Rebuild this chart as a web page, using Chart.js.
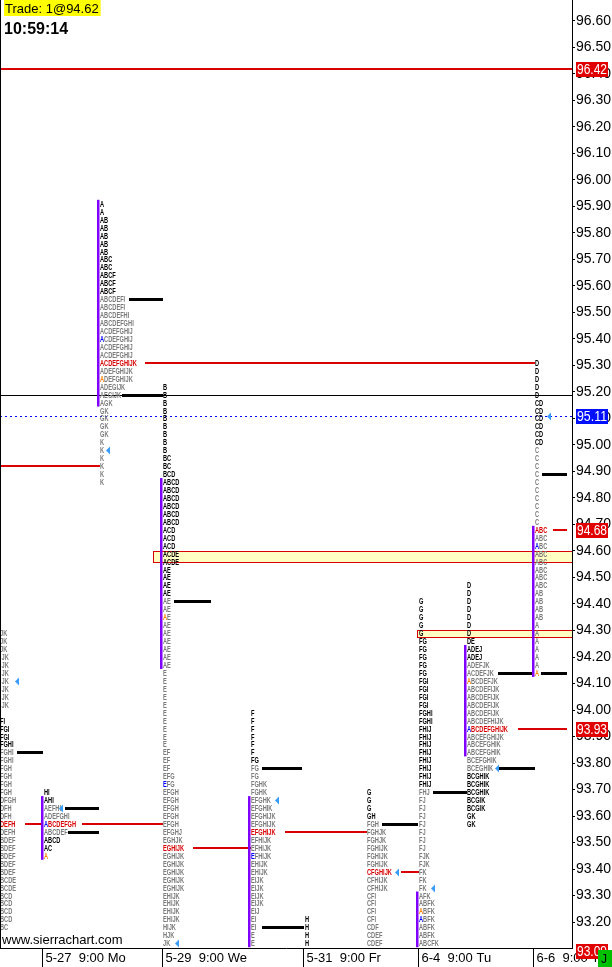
<!DOCTYPE html>
<html><head><meta charset="utf-8">
<script src="https://cdn.jsdelivr.net/npm/chart.js@4.4.0/dist/chart.umd.min.js"></script>
<style>html,body{margin:0;padding:0;background:#fff;overflow:hidden}#wrap{position:relative;width:612px;height:967px}</style>
</head><body><div id="wrap"><canvas id="c" width="612" height="967"></canvas></div>
<script>
// ---------- DATA ----------
const yTicks = [93.2,93.3,93.4,93.5,93.6,93.7,93.8,93.9,94.0,94.1,94.2,94.3,94.4,94.5,94.6,94.7,94.8,94.9,95.0,95.1,95.2,95.3,95.4,95.5,95.6,95.7,95.8,95.9,96.0,96.1,96.2,96.3,96.4,96.5,96.6];
const dateTicks = [42,162,303,418,533];
const dateLabels = ['5-27  9:00 Mo','5-29  9:00 We','5-31  9:00 Fr','6-4  9:00 Tu','6-6  9:00 Th'];
const tickSize = 0.03;
const profileSlots = [0,44,100,163,251,305,367,419,467,535];
const profileTops = [94.29,93.69,95.91,95.22,93.99,93.21,93.69,94.41,94.47,95.31];
const pocRow = [25,5,21,59,16,null,11,null,19,22];

const p1 = ['JK','JK','JK',' JK',' JK',' JK',' JK',' JK',' JK',' JK','','FI','FGI','FGI','FGHI','FGHI','FGHI','FGH','FGH','FGH','FGH','DFGH','DFH','DFH','DEFH','DEFH','BDEF','BDEF','BDEF','BDEF','BDEF','BCDE','BCDE','BCD','BCD','BCD','BCD','BC'];
const p2 = ['HI','AHI','AEFHI','ADEFGHI','ABCDEFGH','ABCDEF','ABCD','AC','A'];
const p3 = ['A','A','AB','AB','AB','AB','AB','ABC','ABC','ABCF','ABCF','ABCF','ABCDEFI','ABCDEFI','ABCDEFHI','ABCDEFGHI','ACDEFGHIJ','ACDEFGHIJ','ACDEFGHIJ','ACDEFGHIJ','ACDEFGHIJK','ADEFGHIJK','ADEFGHIJK','ADEGIJK','AEGIJK','AGK','GK','GK','GK','GK','K','K','K','K','K','K'];
const p4 = ['B','B','B','B','B','B','B','B','B','BC','BC','BCD','ABCD','ABCD','ABCD','ABCD','ABCD','ABCD','ACD','ACD','ACD','ACDE','ACDE','AE','AE','AE','AE','AE','AE','AE','AE','AE','AE','AE','AE','AE','E','E','E','E','E','E','E','E','E','E','EF','EF','EF','EFG','EFG','EFGH','EFGH','EFGH','EFGH','EFGH','EFGHJ','EGHJK','EGHIJK','EGHIJK','EGHIJK','EGHIJK','EGHIJK','EGHIJK','EHIJK','EHIJK','EHIJK','EHIJK','HIJK','HJK','JK'];
const p5 = ['F','F','F','F','F','F','FG','FG','FG','FGHK','FGHK','EFGHK','EFGHIK','EFGHIJK','EFGHIJK','EFGHIJK','EFHIJK','EFHIJK','EFHIJK','EHIJK','EHIJK','EIJK','EIJK','EIJK','EIJK','EIJ','EI','EI','E','E'];
const p6 = ['H','H','H','H'];
const p7 = ['G','G','G','GH','FGH','FGHJK','FGHJK','FGHIJK','FGHIJK','FGHIJK','CFGHIJK','CFHIJK','CFHIJK','CFI','CFI','CFI','CFI','CDF','CDEF','CDEF'];
const p8 = ['G','G','G','G','G','FG','FG','FG','FG','FG','FGI','FGI','FGI','FGI','FGHI','FGHI','FHIJ','FHIJ','FHIJ','FHIJ','FHIJ','FHIJ','FHIJ','FHIJ','FHJ','FJ','FJ','FJ','FJ','FJ','FJ','FJ','FJK','FJK','FK','FK','FK','AFK','ABFK','ABFK','ABFK','ABFK','ABFK','ABCFK'];
const p9 = ['D','D','D','D','D','D','D','DE','ADEJ','ADEJ','ADEFJK','ACDEFJK','ABCDEFJK','ABCDEFIJK','ABCDEFIJK','ABCDEFIJK','ABCDEFIJK','ABCDEFHIJK','ABCDEFGHIJK','ABCEFGHIJK','ABCEFGHIK','ABCEFGHIK','BCEFGHIK','BCEGHIK','BCGHIK','BCGHIK','BCGHIK','BCGIK','BCGIK','GK','GK'];
const p10 = ['D','D','D','D','D','CD','CD','CD','CD','CD','CD','C','C','C','C','C','C','C','C','C','C','ABC','ABC','ABC','ABC','ABC','ABC','ABC','ABC','AB','AB','AB','AB','A','A','A','A','A','A','A'];
const profiles = [p1,p2,p3,p4,p5,p6,p7,p8,p9,p10];

// POC lines (price, from slot, to slot)
const pocLines = [[94.92,0,100],[95.31,145,535],[93.57,25,41],[93.57,82,163],[93.48,193,251],[93.54,285,367],[93.39,401,419],[93.93,518,567],[94.68,553,567]];
const keyLevel = [96.42,0,572];
const midLines = [[93.84,17,43],[93.63,65,99],[93.54,68,99],[95.55,129,163],[95.19,122,163],[94.41,174,211],[93.78,262,302],[93.18,262,304],[93.57,382,418],[93.69,433,467],[94.14,498,533],[93.78,498,535],[94.89,542,567],[94.14,541,567]];
const thinLine = [95.19,0,572];
const lastPrice = 95.11;
const markers = [[94.98,106],[94.11,15],[93.63,59],[93.12,175],[93.66,275],[93.39,395],[93.33,431],[93.78,495],[95.11,547]];
const bands = [[94.56,94.60,153],[94.275,94.30,417]];
const priceBoxes = [[96.42,'red'],[95.11,'blue'],[94.68,'red'],[93.93,'red'],[93.09,'red']];

// ---------- STYLE ----------
const darkRows = [[[12,15]],[[1,2],[7,8]],[[1,12]],[[1,27]],[[1,7]],[[1,4]],[[1,4]],[[1,24]],[[1,10],[25,31]],[[1,11]]];
const aRange = [null,[2,9],[1,26],[13,36],[12,30],null,null,[38,44],[9,22],[22,40]];
const openMark = [[1,9],[2,23],[3,30],[7,40],[8,13],[9,40]];
const blueMark = [[1,5],[2,18],[3,51],[4,19],[7,41],[8,19],[9,24]];
const SX = 0.63;
const RED = '#d80000', GRAY = '#7a7a7a';

function isDark(pi,r){return darkRows[pi].some(([a,b])=>r>=a&&r<=b);}

const tpoPlugin = {
  id:'tpo',
  beforeDatasetsDraw(chart){
    const {ctx, chartArea:a, scales:{x,y}} = chart;
    ctx.save();
    ctx.beginPath(); ctx.rect(a.left,a.top,a.right-a.left,a.bottom-a.top); ctx.clip();
    bands.forEach(([lo,hi,from])=>{
      const x1=Math.round(x.getPixelForValue(from)), x2=a.right;
      const y1=Math.round(y.getPixelForValue(hi)), y2=Math.round(y.getPixelForValue(lo));
      ctx.fillStyle='#ffffc4'; ctx.fillRect(x1,y1,x2-x1,y2-y1);
      ctx.strokeStyle=RED; ctx.lineWidth=1; ctx.strokeRect(x1+0.5,y1+0.5,x2-x1,y2-y1);
    });
    {
      const yy=Math.round(y.getPixelForValue(thinLine[0]))+0.5;
      ctx.strokeStyle='#000'; ctx.lineWidth=1; ctx.beginPath();
      ctx.moveTo(x.getPixelForValue(thinLine[1]),yy); ctx.lineTo(x.getPixelForValue(thinLine[2]),yy); ctx.stroke();
    }
    {
      const yy=Math.round(y.getPixelForValue(lastPrice))+0.5;
      ctx.strokeStyle='#0000ff'; ctx.lineWidth=1; ctx.setLineDash([2,3]); ctx.beginPath();
      ctx.moveTo(a.left,yy); ctx.lineTo(a.right,yy); ctx.stroke(); ctx.setLineDash([]);
    }
    const seg=(p,f,t,col,w)=>{const yy=Math.round(y.getPixelForValue(p));ctx.fillStyle=col;ctx.fillRect(x.getPixelForValue(f),yy-Math.floor(w/2),x.getPixelForValue(t)-x.getPixelForValue(f),w);};
    seg(keyLevel[0],keyLevel[1],keyLevel[2],RED,2);
    pocLines.forEach(l=>seg(l[0],l[1],l[2],RED,2));
    midLines.forEach(l=>seg(l[0],l[1],l[2],'#000',3));
    profiles.forEach((rows,pi)=>{
      const r=aRange[pi]; if(!r) return;
      const x0=x.getPixelForValue(profileSlots[pi]);
      const yt=y.getPixelForValue(profileTops[pi]-(r[0]-1)*tickSize)-4;
      const yb=y.getPixelForValue(profileTops[pi]-(r[1]-1)*tickSize)+4;
      ctx.fillStyle='#8000ff'; ctx.fillRect(x0-3,yt,2.5,yb-yt);
    });
    ctx.font='bold 9px Arial, "Liberation Sans", sans-serif';
    ctx.textBaseline='middle'; ctx.textAlign='left';
    profiles.forEach((rows,pi)=>{
      const x0=x.getPixelForValue(profileSlots[pi]);
      rows.forEach((s,ri)=>{
        if(!s) return;
        const r=ri+1;
        const yy=Math.round(y.getPixelForValue(profileTops[pi]-ri*tickSize))+0.5;
        let col=isDark(pi,r)?'#000':GRAY;
        if(pocRow[pi]===r) col=RED;
        let first=null;
        if(openMark.some(m=>m[0]===pi&&m[1]===r)) first='#ff8000';
        if(blueMark.some(m=>m[0]===pi&&m[1]===r)) first='#0000ff';
        ctx.save(); ctx.translate(x0,yy); ctx.scale(SX,1);
        const lead=s.length-s.trimStart().length;
        const t=s.trimStart();
        let off=lead*ctx.measureText(' ').width;
        if(first){
          ctx.fillStyle=first; ctx.fillText(t[0],off,0);
          off+=ctx.measureText(t[0]).width;
          ctx.fillStyle=col; ctx.fillText(t.slice(1),off,0);
        } else { ctx.fillStyle=col; ctx.fillText(t,off,0); }
        ctx.restore();
      });
    });
    ctx.fillStyle='#3a9cff';
    markers.forEach(([p,s])=>{
      const xx=x.getPixelForValue(s), yy=Math.round(y.getPixelForValue(p))+0.5;
      ctx.beginPath(); ctx.moveTo(xx,yy); ctx.lineTo(xx+4,yy-4); ctx.lineTo(xx+4,yy+4); ctx.closePath(); ctx.fill();
    });
    ctx.restore();
  },
  afterDraw(chart){
    const {ctx, chartArea:a, scales:{x,y}} = chart;
    ctx.save();
    ctx.fillStyle='#000'; ctx.fillRect(0,0,1,a.bottom);
    ctx.fillStyle='#fff'; ctx.fillRect(1,931,121,16);
    ctx.fillStyle='#000'; ctx.font='13px Arial, "Liberation Sans", sans-serif';
    ctx.textBaseline='alphabetic'; ctx.textAlign='left';
    ctx.fillText('www.sierrachart.com',2,944);
    dateTicks.forEach((v,i)=>{
      const px=Math.round(x.getPixelForValue(v))+0.5;
      ctx.strokeStyle='#000'; ctx.lineWidth=1; ctx.beginPath(); ctx.moveTo(px,a.bottom); ctx.lineTo(px,967); ctx.stroke();
      ctx.fillStyle='#000'; ctx.textBaseline='middle'; ctx.fillText(dateLabels[i],px+3,958);
    });
    ctx.font='13px Arial, "Liberation Sans", sans-serif';
    const tr='Trade: 1@94.62';
    ctx.fillStyle='#ffff00'; ctx.fillRect(4,0,ctx.measureText(tr).width+3,16);
    ctx.fillStyle='#000'; ctx.textBaseline='alphabetic'; ctx.fillText(tr,5,13);
    ctx.font='bold 16px Arial, "Liberation Sans", sans-serif';
    ctx.fillText('10:59:14',4,34);
    ctx.font='14px Arial, "Liberation Sans", sans-serif'; ctx.textBaseline='middle';
    priceBoxes.forEach(([p,c])=>{
      const yy=Math.round(y.getPixelForValue(p));
      ctx.fillStyle=c==='red'?'#e00000':'#0010ff';
      ctx.fillRect(576,yy-7,32,15);
      ctx.fillStyle='#fff'; ctx.fillText(p.toFixed(2),577,yy+1,30);
    });
    ctx.fillStyle='#00c000'; ctx.fillRect(598,950,14,17);
    ctx.fillStyle='#000'; ctx.font='12px Arial'; ctx.fillText('J',601,960);
    ctx.restore();
  }
};

new Chart(document.getElementById('c'),{
  type:'scatter',
  data:{datasets:[]},
  options:{
    responsive:false, animation:false, devicePixelRatio:1,
    layout:{padding:0},
    plugins:{legend:{display:false},tooltip:{enabled:false}},
    scales:{
      x:{type:'linear',position:'bottom',min:0,max:572,
         afterFit(s){s.height=19;s.paddingLeft=0;s.paddingRight=0;},
         ticks:{display:false},
         grid:{display:true,drawOnChartArea:false,drawTicks:false},
         border:{display:true,color:'#000',width:1}},
      y:{type:'linear',position:'right',min:93.102,max:96.679,
         afterFit(s){s.width=40;s.paddingTop=0;s.paddingBottom=0;},
         afterBuildTicks(s){s.ticks=yTicks.map(v=>({value:v}));},
         ticks:{autoSkip:false,padding:1,color:'#000',font:{family:'Arial, "Liberation Sans", sans-serif',size:14},callback:v=>Number(v).toFixed(2)},
         grid:{display:true,drawOnChartArea:false,drawTicks:true,tickLength:3,color:'#000'},
         border:{display:true,color:'#000',width:1}}
    }
  },
  plugins:[tpoPlugin]
});
</script></body></html>
